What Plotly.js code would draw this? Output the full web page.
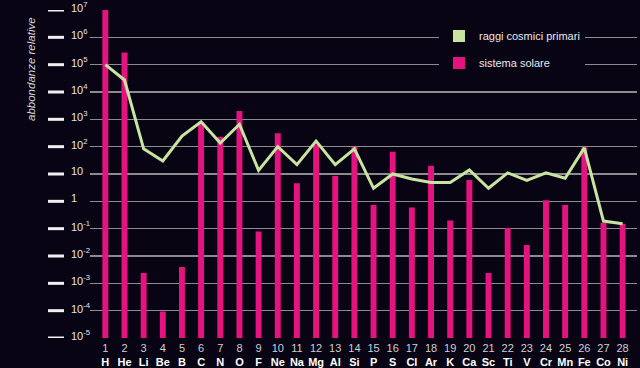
<!DOCTYPE html>
<html>
<head>
<meta charset="utf-8">
<script src="https://cdn.plot.ly/plotly-3.0.1.min.js"></script>
<style>html,body{margin:0;padding:0;background:#080414;}#chart{width:640px;height:368px;}</style>
</head>
<body>
<div id="chart"></div>
<script>
// Atomic numbers and element symbols
const atomicNumbers = [1,2,3,4,5,6,7,8,9,10,11,12,13,14,15,16,17,18,19,20,21,22,23,24,25,26,27,28];
const elements = ["H","He","Li","Be","B","C","N","O","F","Ne","Na","Mg","Al","Si","P","S","Cl","Ar","K","Ca","Sc","Ti","V","Cr","Mn","Fe","Co","Ni"];

// Relative abundance, solar system (bars)
const solarSystem = [1e7, 2.8e5, 2.4e-3, 9.3e-5, 4e-3, 720, 230, 2000, 0.079, 310,
  4.6, 120, 8.5, 100, 0.74, 65, 0.6, 20, 0.2, 6,
  2.4e-3, 0.105, 0.025, 1.1, 0.74, 93, 0.16, 0.15];

// Relative abundance, primary cosmic rays (line)
const cosmicRays = [1e5, 2.75e4, 83, 30, 245, 810, 135, 660, 13.5, 100,
  22, 160, 22, 83, 3, 10, 6.6, 4.9, 4.9, 14,
  3, 11, 5.8, 11, 7, 90, 0.19, 0.15];

// Y axis ticks
const yTickVals = [1e-5,1e-4,1e-3,1e-2,1e-1,1,10,100,1e3,1e4,1e5,1e6,1e7];
const yTickText = ["10<sup>-5</sup>","10<sup>-4</sup>","10<sup>-3</sup>","10<sup>-2</sup>","10<sup>-1</sup>","1","10",
  "10<sup>2</sup>","10<sup>3</sup>","10<sup>4</sup>","10<sup>5</sup>","10<sup>6</sup>","10<sup>7</sup>"];

const BG = '#080414';
const MAGENTA = '#e5137f';
const GREEN = '#c8e4a0';

const xTickText = atomicNumbers.map((n,i) =>
  '<span style="color:#cfcfd4">' + n + '</span><br><b>' + elements[i] + '</b>');

const traces = [
  { // legend entry for cosmic rays (rectangle swatch)
    type: 'bar', x: [null], y: [null], name: 'raggi cosmici primari',
    marker: {color: GREEN}, legendgroup: 'a', showlegend: true, hoverinfo: 'skip'
  },
  {
    type: 'bar', x: atomicNumbers, y: solarSystem, name: 'sistema solare',
    marker: {color: MAGENTA, line: {width: 0}}, width: 0.31, legendgroup: 'b'
  },
  {
    type: 'scatter', mode: 'lines', x: atomicNumbers, y: cosmicRays, name: 'raggi cosmici primari',
    line: {color: GREEN, width: 3}, showlegend: false, legendgroup: 'a'
  }
];

const annotations = yTickVals.map((v,i) => ({
  xref: 'paper', yref: 'y', x: -0.0384, y: Math.log10(v), xanchor: 'left', yanchor: 'middle',
  yshift: 3, text: yTickText[i], showarrow: false,
  font: {family: 'Liberation Sans, Arial, sans-serif', size: 11, color: '#e4e4e8'}
}));
annotations.push({
  xref: 'paper', yref: 'paper', x: -0.108, y: 0.82, xanchor: 'center', yanchor: 'middle',
  text: '<i>abbondanze relative</i>', textangle: -90, showarrow: false,
  font: {family: 'Liberation Sans, Arial, sans-serif', size: 11.5, color: '#d8d8dc'}
});

const shapes = yTickVals.map(v => ({
  type: 'line', xref: 'paper', yref: 'y', x0: -0.0768, x1: -0.0475, y0: v, y1: v,
  line: {color: '#f0f0f0', width: 3}
}));

const layout = {
  width: 640, height: 368,
  margin: {l: 90, r: 3, t: 10, b: 30, pad: 0},
  paper_bgcolor: BG, plot_bgcolor: BG,
  barmode: 'overlay',
  font: {family: 'Liberation Sans, Arial, sans-serif', color: '#e8e8e8'},
  xaxis: {
    range: [0.2, 28.75], tickmode: 'array', tickvals: atomicNumbers, ticktext: xTickText,
    showgrid: false, zeroline: false, showline: false, ticks: '',
    tickfont: {family: 'Liberation Sans, Arial, sans-serif', size: 11, color: '#ffffff'},
    ticklabelstandoff: 2
  },
  yaxis: {
    type: 'log', range: [-5, 7], tickmode: 'array', tickvals: yTickVals,
    showticklabels: false, showgrid: true, gridcolor: '#8c8c90', gridwidth: 1.5,
    zeroline: false, showline: false, ticks: ''
  },
  legend: {
    x: 0.638, y: 0.965, xanchor: 'left', yanchor: 'top', bgcolor: BG,
    font: {family: 'Liberation Sans, Arial, sans-serif', size: 11, color: '#e8e8ec'},
    traceorder: 'grouped', tracegroupgap: 8
  },
  annotations: annotations,
  shapes: shapes,
  showlegend: true
};

Plotly.newPlot('chart', traces, layout, {displayModeBar: false, staticPlot: true});
</script>
</body>
</html>
